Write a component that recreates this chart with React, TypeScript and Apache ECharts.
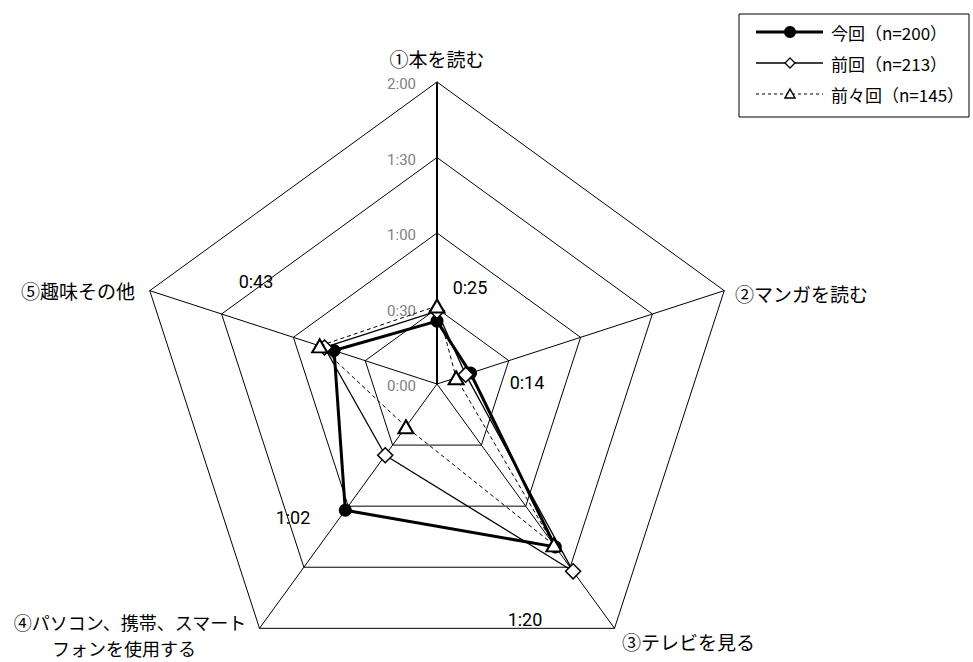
import React, { useEffect, useRef } from 'react';
import * as echarts from 'echarts';

const categories = [
  '①本を読む',
  '②マンガを読む',
  '③テレビを見る',
  '④パソコン、携帯、スマート\nフォンを使用する',
  '⑤趣味その他',
];
const seriesNames = ['今回（n=200）', '前回（n=213）', '前々回（n=145）'];
// minutes, in category order
const current = [25, 14, 80, 62, 43];
const previous = [29, 12, 92, 35, 47];
const beforePrevious = [31, 8, 79, 21, 49];
const ringTicks = [0, 30, 60, 90, 120];
const maxValue = 120;

// ECharts lays radar indicators out counter-clockwise; the reference goes clockwise
const displayOrder = [0, 4, 3, 2, 1];
const reorder = <T,>(arr: T[]) => displayOrder.map((i) => arr[i]);

const CX = 437;
const CY = 384;
const R = 302;
const JP = '"Noto Sans CJK JP", "Noto Sans", sans-serif';
const NUM = 'Roboto, "Noto Sans CJK JP", sans-serif';

const fmt = (m: number) => `${Math.floor(m / 60)}:${String(m % 60).padStart(2, '0')}`;

const nameLayout = [
  [{ x: 437, y: 58, align: 'center', size: 19 }],
  [{ x: 735, y: 293, align: 'left', size: 19 }],
  [{ x: 622, y: 641, align: 'left', size: 19 }],
  [
    { x: 130, y: 622, align: 'center', size: 18 },
    { x: 124, y: 648, align: 'center', size: 18 },
  ],
  [{ x: 135, y: 290, align: 'right', size: 19 }],
];
const valueLabelLayout = [
  [470, 287],
  [527, 382],
  [525, 619],
  [293, 517],
  [256, 281],
];

export default function App() {
  const ref = useRef<HTMLDivElement>(null);
  useEffect(() => {
    document.body.style.margin = '0';
    const chart = echarts.init(ref.current!, null, { renderer: 'svg' });

    const graphics: any[] = [];
    graphics.push({
      type: 'line',
      z: 1,
      shape: { x1: CX, y1: CY, x2: CX, y2: CY - R },
      style: { stroke: '#000', lineWidth: 2 },
    });
    ringTicks.forEach((t) => {
      graphics.push({
        type: 'text',
        z: 1,
        x: 416,
        y: CY - (t / maxValue) * R + 2,
        style: {
          text: fmt(t),
          fill: '#808080',
          font: `15px ${NUM}`,
          align: 'right',
          verticalAlign: 'middle',
        },
      });
    });
    categories.forEach((c, i) => {
      const lines = c.split('\n');
      lines.forEach((line, j) => {
        const l = nameLayout[i][j];
        graphics.push({
          type: 'text',
          x: l.x,
          y: l.y,
          style: {
            text: line,
            fill: '#000',
            font: `${l.size}px ${JP}`,
            align: l.align,
            verticalAlign: 'middle',
          },
        });
      });
    });
    current.forEach((v, i) => {
      graphics.push({
        type: 'text',
        x: valueLabelLayout[i][0],
        y: valueLabelLayout[i][1],
        style: {
          text: fmt(v),
          fill: '#000',
          font: `18px ${NUM}`,
          align: 'center',
          verticalAlign: 'middle',
        },
      });
    });
    const lx = 739, ly = 14, lw = 230, lh = 103;
    const rowY = [32, 63, 94];
    const legendChildren: any[] = [
      { type: 'rect', shape: { x: lx, y: ly, width: lw, height: lh }, style: { fill: '#fff', stroke: '#000', lineWidth: 1 } },
      { type: 'line', shape: { x1: 756, y1: rowY[0], x2: 823, y2: rowY[0] }, style: { stroke: '#000', lineWidth: 3 } },
      { type: 'circle', shape: { cx: 790, cy: rowY[0], r: 6 }, style: { fill: '#000' } },
      { type: 'line', shape: { x1: 756, y1: rowY[1], x2: 823, y2: rowY[1] }, style: { stroke: '#000', lineWidth: 1.3 } },
      { type: 'polygon', shape: { points: [[790, rowY[1] - 5], [795, rowY[1]], [790, rowY[1] + 5], [785, rowY[1]]] }, style: { fill: '#fff', stroke: '#000', lineWidth: 1.3 } },
      { type: 'line', shape: { x1: 756, y1: rowY[2], x2: 823, y2: rowY[2] }, style: { stroke: '#000', lineWidth: 1, lineDash: [3, 3] } },
      { type: 'polygon', shape: { points: [[790, rowY[2] - 5], [795, rowY[2] + 4], [785, rowY[2] + 4]] }, style: { fill: '#fff', stroke: '#000', lineWidth: 1.5 } },
    ];
    seriesNames.forEach((n, i) => {
      legendChildren.push({
        type: 'text',
        x: 831,
        y: rowY[i],
        style: { text: n, fill: '#000', font: `17px ${JP}`, align: 'left', verticalAlign: 'middle' },
      });
    });
    graphics.push({ type: 'group', z: 10, children: legendChildren });

    chart.setOption({
      animation: false,
      backgroundColor: '#fff',
      radar: {
        center: [CX, CY],
        radius: R,
        startAngle: 90,
        shape: 'polygon',
        splitNumber: 4,
        indicator: reorder(categories).map((c) => ({ name: c, min: 0, max: maxValue })),
        axisName: { show: false },
        axisLine: { lineStyle: { color: '#000', width: 1 } },
        splitLine: { lineStyle: { color: '#000', width: 1 } },
        splitArea: { show: false },
        axisTick: { show: false },
        axisLabel: { show: false },
      },
      series: [
        {
          type: 'radar',
          z: 3,
          data: [{ name: seriesNames[0], value: reorder(current) }],
          symbol: 'circle',
          symbolSize: 13,
          lineStyle: { color: '#000', width: 3 },
          itemStyle: { color: '#000' },
        },
        {
          type: 'radar',
          z: 4,
          data: [{ name: seriesNames[1], value: reorder(previous) }],
          symbol: 'diamond',
          symbolSize: 15,
          lineStyle: { color: '#000', width: 1.3 },
          itemStyle: { color: '#fff', borderColor: '#000', borderWidth: 1.5 },
        },
        {
          type: 'radar',
          z: 5,
          data: [{ name: seriesNames[2], value: reorder(beforePrevious) }],
          symbol: 'triangle',
          symbolSize: [15, 13],
          lineStyle: { color: '#000', width: 1, type: [4, 3] },
          itemStyle: { color: '#fff', borderColor: '#000', borderWidth: 2 },
        },
      ],
      graphic: graphics,
    });
    return () => chart.dispose();
  }, []);
  return <div ref={ref} style={{ width: 973, height: 662 }} />;
}
